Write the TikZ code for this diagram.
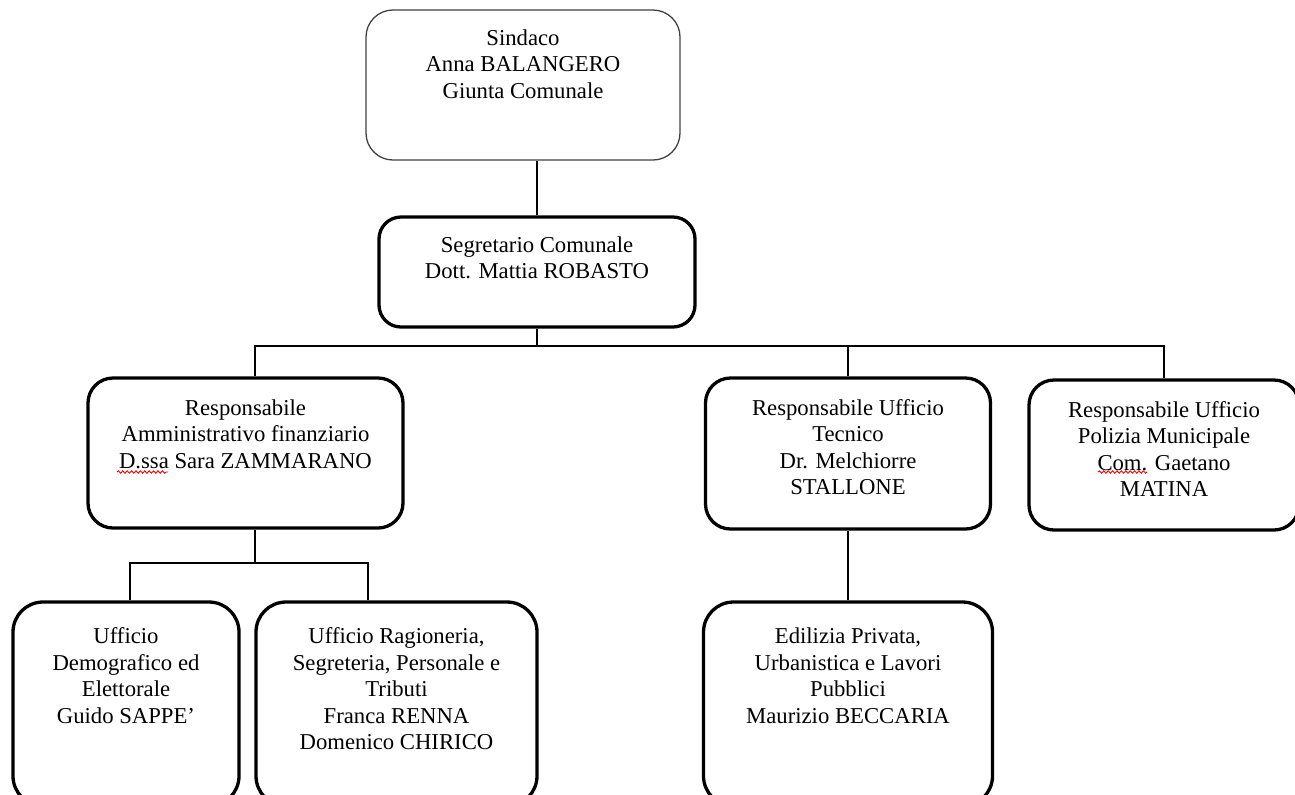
\documentclass[tikz,border=0pt]{standalone}
\usepackage{fontspec}
\setmainfont{Liberation Serif}
\usepackage{tikz}
\usetikzlibrary{decorations.pathmorphing}

\newcommand{\orgtext}[4][10.75pt]{\parbox[c][#3][t]{#2}{\centering\vspace*{#1}#4}}

\begin{document}
\begin{tikzpicture}[x=0.5pt, y=-0.5pt,
    font=\fontsize{11.35pt}{13.25pt}\selectfont,
    orgbox/.style={draw, line width=1.65pt, rounded corners=12.5pt, inner sep=0pt},
    lowbox/.style={orgbox, rounded corners=15pt},
    link/.style={line width=1.15pt},
    spellwave/.style={red, line width=0.45pt, decorate,
      decoration={snake, amplitude=0.6pt, segment length=2.2pt}}]
    \useasboundingbox (0,0) rectangle (1295,794);
    \clip (0,0) rectangle (1295,794);

    \node[orgbox, draw=black!75, line width=0.65pt, rounded corners=13.5pt] (sindaco) at (523,85)
      {\orgtext[9.75pt]{157pt}{75pt}{Sindaco\\Anna BALANGERO\\Giunta Comunale}};
    \node[orgbox, rounded corners=11pt] (segretario) at (537,272)
      {\orgtext[9.75pt]{158pt}{55pt}{Segretario Comunale\\Dott. Mattia ROBASTO}};

    \node[orgbox] (amm) at (245.5,453)
      {\orgtext{157.5pt}{75pt}{Responsabile\\Amministrativo finanziario\\D.ssa Sara ZAMMARANO}};
    \node[orgbox] (tecnico) at (848,453.5)
      {\orgtext{142.5pt}{75.5pt}{Responsabile Ufficio\\Tecnico\\Dr. Melchiorre\\STALLONE}};
    \node[orgbox] (polizia) at (1164,455)
      {\orgtext{135pt}{75pt}{Responsabile Ufficio\\Polizia Municipale\\Com. Gaetano\\MATINA}};

    \node[lowbox] (demografico) at (126,704)
      {\orgtext[13pt]{113pt}{102pt}{Ufficio\\Demografico ed\\Elettorale\\Guido SAPPE'}};
    \node[lowbox] (ragioneria) at (396.5,704)
      {\orgtext[13pt]{140.5pt}{102pt}{Ufficio Ragioneria,\\Segreteria, Personale e\\Tributi\\Franca RENNA\\Domenico CHIRICO}};
    \node[lowbox] (edilizia) at (848,704)
      {\orgtext[13pt]{144.5pt}{102pt}{Edilizia Privata,\\Urbanistica e Lavori\\Pubblici\\Maurizio BECCARIA}};

    % junctions of the connector bars
    \coordinate (bus) at (537,346);
    \coordinate (sub) at (255,563);

    \path[link] (segretario.north |- sindaco.south) edge (segretario.north)
                (segretario.south)                  edge (bus)
                (tecnico.north |- bus)              edge (tecnico.north)
                ([xshift=4.75pt]amm.south)          edge (sub)
                (tecnico.south)                     edge (edilizia.north);
    \draw[link] ([xshift=4.75pt]amm.north) |- (bus) -| (polizia.north);
    \draw[link] ([xshift=2pt]demografico.north) |- (sub) -| ([xshift=-14.25pt]ragioneria.north);

    % spell-check marks under D.ssa and Com.
    \draw[spellwave] ([shift={(-128.5,19)}]amm.center) -- ([shift={(-77.5,19)}]amm.center);
    \draw[spellwave] ([shift={(-66,17)}]polizia.center) -- ([shift={(-17,17)}]polizia.center);
\end{tikzpicture}
\end{document}
